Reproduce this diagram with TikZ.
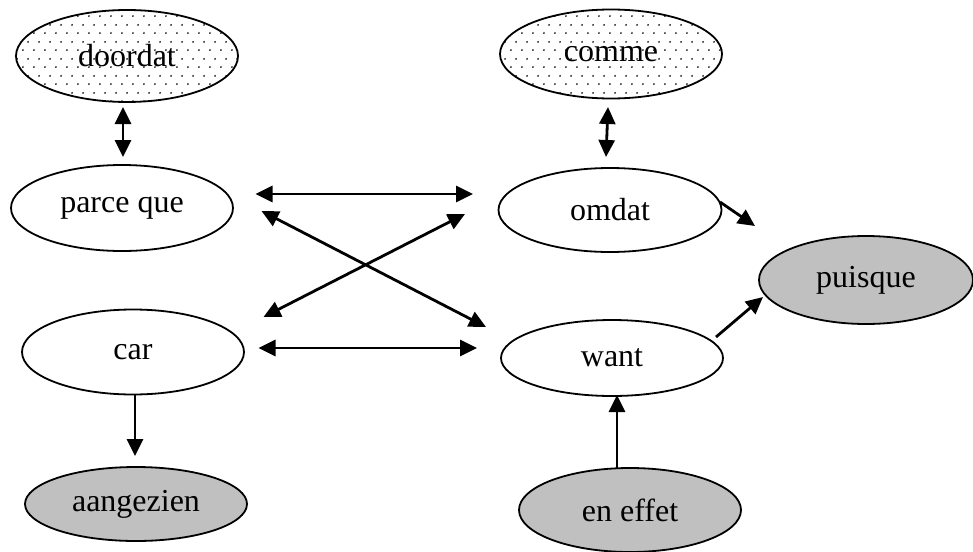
\documentclass[tikz,border=0pt]{standalone}
\usepackage{fontspec}
\setmainfont{Liberation Serif}
\usetikzlibrary{shapes.geometric,arrows.meta,patterns}
\pgfdeclarepatternformonly{sparsedots}{\pgfpointorigin}{\pgfqpoint{10.6pt}{16.6pt}}{\pgfqpoint{10.6pt}{16.6pt}}{%
	\pgfpathcircle{\pgfqpoint{2pt}{2pt}}{0.95pt}
	\pgfpathcircle{\pgfqpoint{7.3pt}{10.3pt}}{0.95pt}
	\pgfusepath{fill}}
\definecolor{lightgrey}{HTML}{C0C0C0}
\begin{document}
\begin{tikzpicture}[x=1pt,y=-1pt,font=\fontsize{32}{38}\selectfont,line join=round,
	conn/.style={ellipse,draw,line width=1.8pt,inner sep=0pt,outer sep=0pt,minimum width=222,minimum height=84},
	dotconn/.style={conn,pattern=sparsedots},
	greyconn/.style={conn,fill=lightgrey},
	tip/.tip={Triangle[length=17pt,width=16pt]},
	both/.style={line width=2.8pt,tip-tip},
	one/.style={line width=2.8pt,-tip}]
	\useasboundingbox (0,0) rectangle (973,551);
	% linker kolom
	\path 
	(127,56) node[dotconn,minimum height=92] (doordat) {doordat}
	(122,208) node[conn,minimum height=86] (parceque) {parce que}
	(133,352) node[conn,minimum height=85] (car) {car}
	(136,504) node[greyconn,minimum height=74] (aangezien) {aangezien};
	% rechter kolom
	\path 
	(611,54) node[dotconn,minimum height=89] (comme) {comme}
	(610,210) node[conn,minimum width=223] (omdat) {omdat}
	(612,358) node[conn,minimum height=76] (want) {want}
	(630,510) node[greyconn] (effet) {en effet}
	(866,280) node[greyconn,minimum width=214,minimum height=88] (puisque) {puisque};
	% pijlen
	\draw[both] ([shift={(-4,5)}]doordat.south)--([shift={(1,-8)}]parceque.north);
	\draw[both] ([shift={(-3,8.5)}]comme.south)--([shift={(-4,-11)}]omdat.north);
	\draw[both] ([shift={(22.5,-14)}]parceque.east)--([shift={(-25.5,-16)}]omdat.west);
	\draw[both] ([shift={(28.5,3)}]parceque.east)--([shift={(-15,-31)}]want.west);
	\draw[both] ([shift={(19.5,-35)}]car.east)--([shift={(-33.5,4)}]omdat.west);
	\draw[both] ([shift={(14.5,-4)}]car.east)--([shift={(-24,-10)}]want.west);
	\draw[one] ([shift={(2,0.5)}]car.south)--([shift={(-1,-11)}]aangezien.north);
	\draw[one] ([shift={(-13,0)}]effet.north)--([shift={(5,-1)}]want.south);
	\draw[one] ([shift={(-1.5,-8)}]omdat.east)--([shift={(-4,-54)}]puisque.west);
	\draw[one] ([shift={(-7,-21)}]want.east)--([shift={(4,17)}]puisque.west);
\end{tikzpicture}
\end{document}
